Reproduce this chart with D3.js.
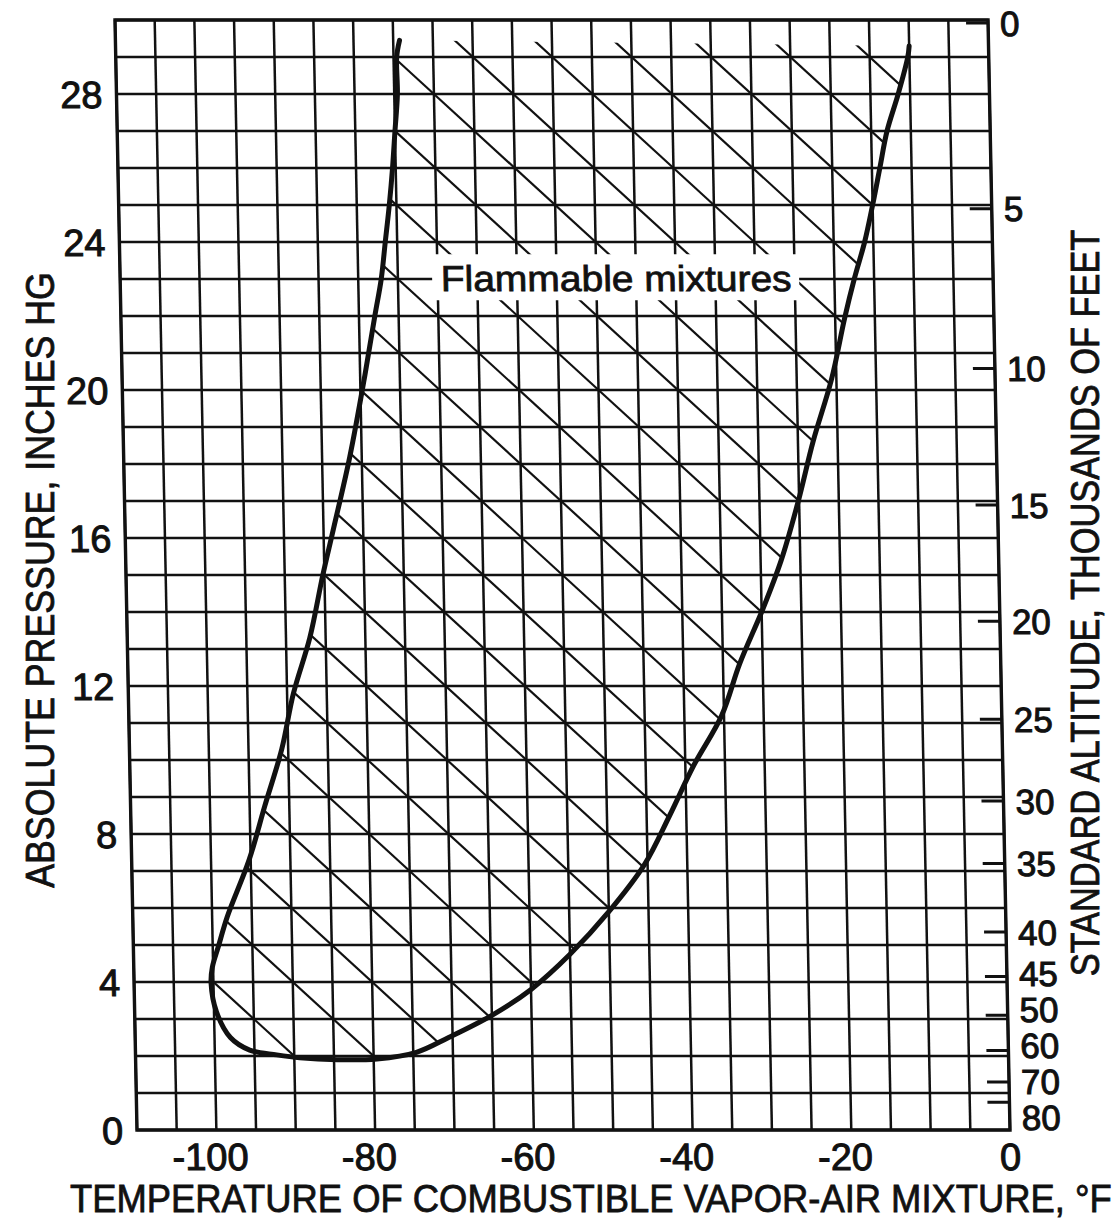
<!DOCTYPE html>
<html>
<head>
<meta charset="utf-8">
<script src="https://d3js.org/d3.v7.min.js"></script>
<style>
  body { margin: 0; background: #fff; }
  svg { display: block; font-family: "Liberation Sans", Arial, sans-serif; }
</style>
</head>
<body>
<script>
/*
* Flammable range of a combustible vapour-air mixture against pressure / altitude.
*/

// tick values on the bottom axis, degrees F
var tempTicks = [-100, -80, -60, -40, -20, 0];

// tick values on the left axis, inches Hg
var pressureTicks = [0, 4, 8, 12, 16, 20, 24, 28];

// right axis: standard altitude (thousands of feet) and the pressure it sits at
var altitudeTicks = [0, 5, 10, 15, 20, 25, 30, 35, 40, 45, 50, 60, 70, 80];
var altitudePressure = [29.92, 24.9, 20.58, 16.89, 13.75, 11.1, 8.89, 7.2, 5.35, 4.15, 3.1, 2.15, 1.3, 0.75];

// limit curve: down the left limit, round the bottom, up the right limit
var limitTemp = [-74.2, -74.6, -74.6, -75.0, -75.4, -75.9, -76.5, -77.1, -78.0, -79.4, -81.5,
                 -83.8, -85.2, -87.0, -89.2, -90.8, -93.1, -95.2, -98.1, -99.3, -100.1, -100.3,
                 -99.7, -98.0, -95.6, -92.2, -89.3, -84.6, -79.6, -74.6, -70.5, -65.0, -60.0,
                 -55.0, -50.0, -45.4, -42.1, -39.0, -35.3, -32.9, -29.8, -27.4, -25.1, -23.1,
                 -20.6, -18.8, -17.5, -16.1, -15.0, -14.0, -13.0, -11.5, -10.2, -10.0];
var limitPressure = [29.45, 29.0, 28.0, 27.0, 26.0, 25.0, 24.0, 23.0, 22.0, 20.4, 18.2,
                     16.2, 15.0, 13.3, 11.8, 10.3, 8.75, 7.3, 5.76, 4.95, 4.4, 3.97,
                     3.2, 2.5, 2.16, 2.03, 1.95, 1.9, 1.92, 2.1, 2.5, 3.1, 3.8,
                     4.75, 5.9, 7.17, 8.5, 9.83, 11.2, 12.6, 14.1, 15.4, 17.0, 18.6,
                     20.3, 21.95, 23.0, 24.0, 25.0, 26.0, 27.0, 28.0, 29.0, 29.3];

// texts
var xTitle = "TEMPERATURE OF COMBUSTIBLE VAPOR-AIR MIXTURE, \u00b0F";
var yTitle = "ABSOLUTE PRESSURE, INCHES HG";
var y2Title = "STANDARD ALTITUDE, THOUSANDS OF FEET";
var regionLabel = "Flammable mixtures";

window.onload = function() {
  makePlot();
};

/*
* Squeezes a text sideways so that it is the given width.
*/
function fitText(text, place, width) {
  var w = text.node().getComputedTextLength();
  text.attr("transform", place + " scale(" + (width / w) + ",1)");
}

/*
* Draws the chart.
*/
function makePlot() {

  // plot area (the scanned sheet leans a little, hence the skew)
  var margin = {top: 20, left: 115};
  var width = 873;
  var height = 1110;
  var skew = Math.atan(22 / 1110) * 180 / Math.PI;
  var ink = "#111";

  var xScale = d3.scaleLinear().domain([-110, 0]).range([0, width]);
  var yScale = d3.scaleLinear().domain([0, 30]).range([height, 0]);

  var svg = d3.select("body")
    .append("svg")
    .attr("width", 1118)
    .attr("height", 1222);

  var chart = svg.append("g")
    .attr("transform", "translate(" + margin.left + "," + margin.top + ") skewX(" + skew + ")");

  // grid every 5 degrees and every inch
  chart.append("g")
    .selectAll("line")
    .data(d3.range(-110, 0.01, 5))
    .enter()
    .append("line")
    .attr("x1", function(d) { return xScale(d); })
    .attr("x2", function(d) { return xScale(d); })
    .attr("y1", 0)
    .attr("y2", height)
    .attr("stroke", ink)
    .attr("stroke-width", 2.5);

  chart.append("g")
    .selectAll("line")
    .data(d3.range(0, 30.01, 1))
    .enter()
    .append("line")
    .attr("x1", 0)
    .attr("x2", width)
    .attr("y1", function(d) { return yScale(d); })
    .attr("y2", function(d) { return yScale(d); })
    .attr("stroke", ink)
    .attr("stroke-width", 2.5);

  // limit curve points
  var points = d3.zip(limitTemp, limitPressure);
  var line = d3.line()
    .x(function(d) { return xScale(d[0]); })
    .y(function(d) { return yScale(d[1]); })
    .curve(d3.curveCatmullRom.alpha(0.5));

  // clip for the hatching: the region inside the curve, closed across the top
  chart.append("clipPath")
    .attr("id", "region")
    .append("path")
    .attr("d", line(points) + "Z");

  // hatching runs along the cell diagonals, one in two
  var hatch = d3.range(0, 53, 2);
  chart.append("g")
    .attr("clip-path", "url(#region)")
    .selectAll("line")
    .data(hatch)
    .enter()
    .append("line")
    .attr("x1", xScale(-110))
    .attr("y1", function(k) { return yScale(k); })
    .attr("x2", xScale(0))
    .attr("y2", function(k) { return yScale(k - 22); })
    .attr("stroke", ink)
    .attr("stroke-width", 2.2);

  // the curve itself
  chart.append("path")
    .attr("d", line(points))
    .attr("fill", "none")
    .attr("stroke", ink)
    .attr("stroke-width", 5)
    .attr("stroke-linecap", "round");

  // label in its white box
  var label = chart.append("g")
    .attr("transform", "translate(" + xScale(-47.5) + "," + yScale(23.05) + ")");
  label.append("rect")
    .attr("x", -184)
    .attr("y", -23)
    .attr("width", 367)
    .attr("height", 46)
    .attr("fill", "#fff");
  var labelText = label.append("text")
    .attr("text-anchor", "middle")
    .style("font-size", "36px")
    .attr("fill", ink)
    .attr("stroke", ink)
    .attr("stroke-width", 0.8)
    .text(regionLabel);
  fitText(labelText, "translate(0,14)", 351);

  // frame
  chart.append("rect")
    .attr("width", width)
    .attr("height", height)
    .attr("fill", "none")
    .attr("stroke", ink)
    .attr("stroke-width", 3.4);

  // left axis labels
  chart.append("g")
    .selectAll("text")
    .data(pressureTicks)
    .enter()
    .append("text")
    .attr("x", -14)
    .attr("y", function(d) { return yScale(d); })
    .attr("dy", "0.36em")
    .attr("text-anchor", "end")
    .style("font-size", "38px")
    .attr("fill", ink)
    .attr("stroke", ink)
    .attr("stroke-width", 1)
    .text(function(d) { return d; });

  // bottom axis labels, digits centred on the grid line, the minus hangs to the left
  chart.append("g")
    .selectAll("text")
    .data(tempTicks)
    .enter()
    .append("text")
    .attr("y", height + 40)
    .attr("text-anchor", "end")
    .style("font-size", "38px")
    .attr("fill", ink)
    .attr("stroke", ink)
    .attr("stroke-width", 1)
    .text(function(d) { return Math.abs(d); })
    .each(function(d) {
      var w = this.getComputedTextLength();
      d3.select(this)
        .attr("x", xScale(d) + w / 2)
        .text(d < 0 ? "-" + Math.abs(d) : d);
    });

  // right axis ticks
  chart.append("g")
    .selectAll("line")
    .data(altitudePressure)
    .enter()
    .append("line")
    .attr("x1", width - 22)
    .attr("x2", width)
    .attr("y1", function(d) { return yScale(d); })
    .attr("y2", function(d) { return yScale(d); })
    .attr("stroke", ink)
    .attr("stroke-width", 3);

  // right axis labels, spread apart where they crowd
  var minGap = 36;
  var labelY = altitudePressure.map(function(p) { return yScale(p); });
  for (var it = 0; it < 120; it++) {
    for (var i = 1; i < labelY.length; i++) {
      var gap = labelY[i] - labelY[i - 1];
      if (gap < minGap) {
        labelY[i] += (minGap - gap) / 2;
        labelY[i - 1] -= (minGap - gap) / 2;
      }
    }
  }
  chart.append("g")
    .selectAll("text")
    .data(altitudeTicks)
    .enter()
    .append("text")
    .attr("x", width + 12)
    .attr("y", function(d, i) { return labelY[i]; })
    .attr("dy", "0.36em")
    .style("font-size", "35px")
    .attr("fill", ink)
    .attr("stroke", ink)
    .attr("stroke-width", 1)
    .text(function(d) { return d; });

  // axis titles, squeezed to the width they have in the original
  var xt = svg.append("text")
    .style("font-size", "39px")
    .attr("fill", ink)
    .attr("stroke", ink)
    .attr("stroke-width", 0.8)
    .text(xTitle);
  fitText(xt, "translate(70,1212)", 1042);

  var yt = svg.append("text")
    .attr("text-anchor", "middle")
    .style("font-size", "40px")
    .attr("fill", ink)
    .attr("stroke", ink)
    .attr("stroke-width", 0.8)
    .text(yTitle);
  fitText(yt, "translate(54,580) rotate(-90)", 616);

  var y2t = svg.append("text")
    .attr("text-anchor", "middle")
    .style("font-size", "40px")
    .attr("fill", ink)
    .attr("stroke", ink)
    .attr("stroke-width", 0.8)
    .text(y2Title);
  fitText(y2t, "translate(1099,603) rotate(-90)", 747);
}
</script>
</body>
</html>
